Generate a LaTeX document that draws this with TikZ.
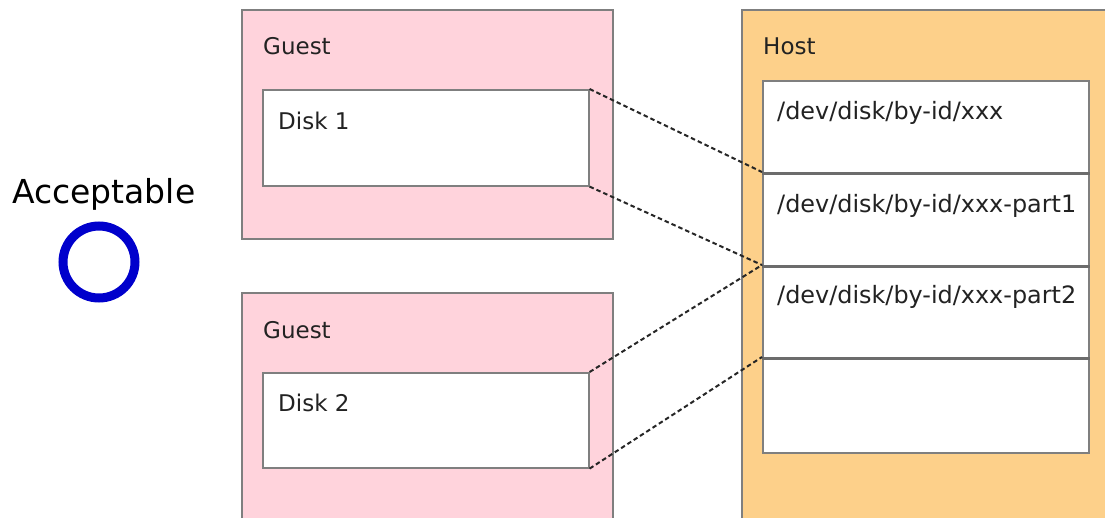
\documentclass[tikz,border=0pt]{standalone}
\usepackage{fontspec}
\setmainfont{DejaVu Sans}
\usepackage{xcolor}
\usetikzlibrary{positioning}

\definecolor{guestpink}{HTML}{FFD3DC}
\definecolor{hostorange}{HTML}{FDD08A}
\definecolor{edgegray}{HTML}{7F7F7F}
\definecolor{okblue}{HTML}{0000CC}
\definecolor{inkgray}{HTML}{222222}

\begin{document}
\begin{tikzpicture}[x=1pt, y=-1pt,
    guest/.style={rectangle, draw=edgegray, line width=1.6pt, fill=guestpink,
                  anchor=north west, minimum width=371pt, inner sep=0pt},
    host/.style={rectangle, draw=edgegray, line width=1.6pt, fill=hostorange,
                 anchor=north west, minimum width=380pt, minimum height=520pt, inner sep=0pt},
    disk/.style={rectangle, draw=edgegray, line width=1.6pt, fill=white,
                 anchor=north west, minimum width=326pt, minimum height=96pt, inner sep=0pt},
    part/.style={rectangle, draw=edgegray, line width=1.6pt, fill=white,
                 anchor=north west, minimum width=326pt, inner sep=0pt},
    divider/.style={edgegray!85!black, line width=3pt},
    txt/.style={anchor=base west, inner sep=0pt, text=inkgray,
                font=\fontsize{23}{27}\selectfont},
    path/.style={txt, font=\fontsize{23.9}{28}\selectfont},
    map/.style={dash pattern=on 4.5pt off 3pt, line width=2pt, black!85},
]
\useasboundingbox (0,0) rectangle (1105,517);
\clip (0,0) rectangle (1105,517);

% Verdict
\node[txt, text=black, font=\fontsize{33}{38}\selectfont] (verdict) at (12,203) {Acceptable};
\node[circle, draw=okblue, line width=9pt, minimum size=72pt, inner sep=0pt] (okmark) at (99,262) {};

% Guest boxes
\node[guest, minimum height=229pt] (guest1) at (241,9) {};
\node[txt] (guest1lbl) at (263,54) {Guest};
\node[disk] (disk1) at (262,89) {};
\node[txt] (disk1lbl) at (278,129) {Disk 1};

\node[guest, minimum height=240pt] (guest2) at (241,292) {};
\node[txt] (guest2lbl) at (263,338) {Guest};
\node[disk, minimum height=95pt] (disk2) at (262,372) {};
\node[txt] (disk2lbl) at (278,411) {Disk 2};

% Host box with device list
\node[host] (host) at (741,9) {};
\node[txt] (hostlbl) at (763,54) {Host};
\node[part, minimum height=92pt] (row1) at (762,80) {};
\node[part, minimum height=93pt] (row2) at (762,172) {};
\node[part, minimum height=92pt] (row3) at (762,265) {};
\node[part, minimum height=95pt] (row4) at (762,357) {};
\draw[divider] (row1.south west) -- (row1.south east);
\draw[divider] (row2.south west) -- (row2.south east);
\draw[divider] (row3.south west) -- (row3.south east);
\node[path] (row1lbl) at (777,119) {/dev/disk/by-id/xxx};
\node[path] (row2lbl) at (777,212) {/dev/disk/by-id/xxx-part1};
\node[path] (row3lbl) at (777,303) {/dev/disk/by-id/xxx-part2};

% Mapping lines (guest disk -> host partition range)
\draw[map] (disk1.north east) -- (row2.north west);
\draw[map] (disk1.south east) -- (row3.north west);
\draw[map] (disk2.north east) -- (row3.north west);
\draw[map] (disk2.south east) -- (row4.north west);

\end{tikzpicture}
\end{document}
